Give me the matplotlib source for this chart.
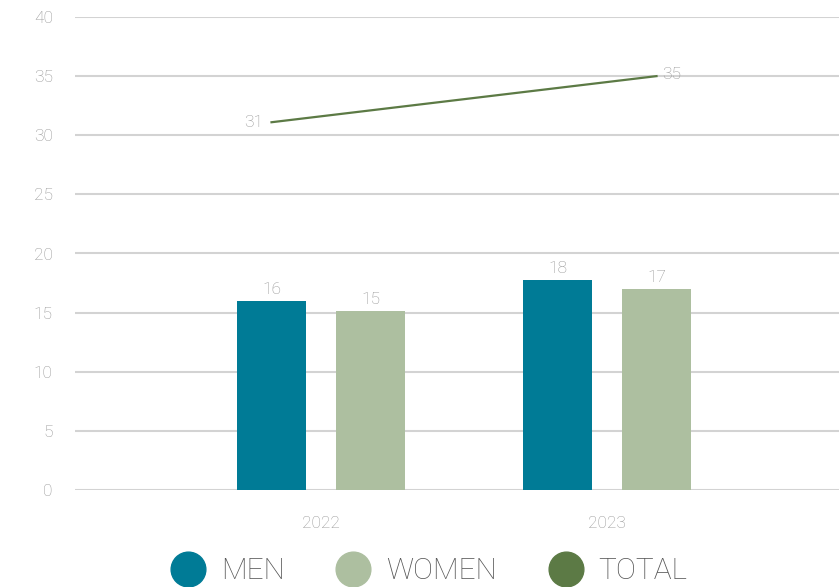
import numpy as np
import matplotlib.pyplot as plt
from matplotlib.lines import Line2D

# dados
years = ["2022", "2023"]
men = [16.0, 17.75]
women = [15.1, 17.0]
total = [31.1, 35.0]
men_labels = ["16", "18"]
women_labels = ["15", "17"]
total_labels = ["31", "35"]

c_men = "#007b96"
c_women = "#adbfa0"
c_total = "#5c7a45"
c_text = "#969696"

plt.rcParams['font.family'] = ['Roboto', 'DejaVu Sans']
plt.rcParams['font.weight'] = 'light'

fig = plt.figure(figsize=(8.39, 5.87), dpi=100)
ax = fig.add_axes([75/839, 97/587, 764/839, 473/587])

x = np.arange(len(years))
off = 0.173
w = 0.241

ax.bar(x - off, men, w, color=c_men, zorder=3)
ax.bar(x + off, women, w, color=c_women, zorder=3)
ax.plot([x[0] - off, x[1] + off], total, color=c_total, lw=1.6, zorder=4)

fs = 12.5
for i in range(len(years)):
    ax.text(x[i] - off, men[i] + 0.35, men_labels[i], ha='center', va='bottom',
            color=c_text, fontsize=fs)
    ax.text(x[i] + off, women[i] + 0.35, women_labels[i], ha='center', va='bottom',
            color=c_text, fontsize=fs)
ax.text(x[0] - off - 0.03, total[0], total_labels[0], ha='right', va='center',
        color=c_text, fontsize=fs)
ax.text(x[1] + off + 0.02, total[1] + 0.1, total_labels[1], ha='left', va='center',
        color=c_text, fontsize=fs)

ax.set_ylim(0, 40)
ax.set_yticks(range(0, 41, 5))
ax.set_xlim(-0.86, 1.811)
ax.set_xticks(x)
ax.set_xticklabels(years)
ax.yaxis.grid(True, color="#d3d3d3", lw=1.5, zorder=0)
ax.set_axisbelow(True)
for s in ax.spines.values():
    s.set_visible(False)
ax.tick_params(axis='both', length=0, colors=c_text, labelsize=fs)
ax.tick_params(axis='y', pad=16)
ax.tick_params(axis='x', pad=19)

handles = [Line2D([], [], marker='o', ls='', color=c, markersize=25)
           for c in (c_men, c_women, c_total)]
leg = fig.legend(handles, ["MEN", "WOMEN", "TOTAL"], loc='center',
                 bbox_to_anchor=(0.511, 0.027), ncol=3, frameon=False,
                 fontsize=21.5, handletextpad=0.5, columnspacing=1.7,
                 handlelength=1.2)
for t in leg.get_texts():
    t.set_color("#555555")

fig.savefig("out.png", dpi=100)
